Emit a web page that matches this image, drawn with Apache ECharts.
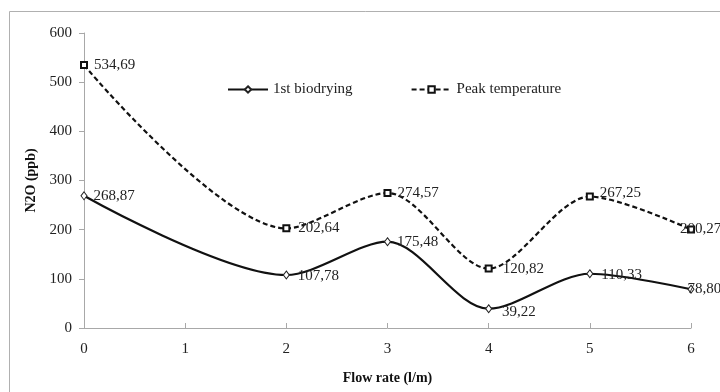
<!DOCTYPE html>
<html>
<head>
<meta charset="utf-8">
<script src="https://cdn.jsdelivr.net/npm/echarts@6/dist/echarts.min.js"></script>
<style>
  html, body { margin: 0; padding: 0; background: #fff; }
  #chart { width: 720px; height: 392px; }
</style>
</head>
<body>
<div id="chart"></div>
<script>
// data
const flowRates = [0, 2, 3, 4, 5, 6];
const biodrying = [268.87, 107.78, 175.48, 39.22, 110.33, 78.80];
const peakTemp = [534.69, 202.64, 274.57, 120.82, 267.25, 200.27];
const seriesNames = ['1st biodrying', 'Peak temperature'];

const serif = '"Liberation Serif", "DejaVu Serif", serif';

// label nudges so text sits like the original (last point label overlaps its marker)
const bioOffsets = [[0, 0], [2, 1], [0, 0], [4, 3], [2, 1], [-13, 0]];
const peakOffsets = [[0, 0], [2, 0], [0, 0], [4, 0], [0, -4], [-21, 0]];

// [x, y] pairs for the value x axis, with a per-point label offset
const toItems = (vals, offs) => vals.map((v, i) => ({
  value: [flowRates[i], v],
  label: { offset: offs[i] }
}));
// comma decimal like the original
const commaFmt = (p) => p.value[1].toFixed(2).replace('.', ',');

const chart = echarts.init(document.getElementById('chart'));

const labelStyle = {
  show: true,
  position: 'right',
  distance: 6,
  formatter: commaFmt,
  fontFamily: serif,
  fontSize: 15,
  color: '#222'
};

const option = {
  animation: false,
  backgroundColor: '#fff',
  graphic: [{
    type: 'rect',
    shape: { x: 9.5, y: 11.5, width: 720, height: 400 },
    style: { fill: 'none', stroke: '#b0b0b0', lineWidth: 1 },
    silent: true
  }],
  grid: { left: 84, right: 29, top: 33, bottom: 64 },
  legend: {
    left: 222,
    top: 77,
    itemGap: 58,
    itemWidth: 40,
    itemHeight: 8,
    textStyle: { fontFamily: serif, fontSize: 15, color: '#222' },
    data: seriesNames
  },
  xAxis: {
    type: 'value',
    min: 0,
    max: 6,
    interval: 1,
    name: 'Flow rate (l/m)',
    nameLocation: 'middle',
    nameGap: 43,
    nameTextStyle: { fontFamily: serif, fontSize: 14, fontWeight: 'bold', color: '#111' },
    axisLine: { lineStyle: { color: '#a8a8a8' } },
    axisTick: { show: true, inside: true, length: 5, lineStyle: { color: '#a8a8a8' } },
    axisLabel: { fontFamily: serif, fontSize: 15, color: '#222', margin: 14 },
    splitLine: { show: false }
  },
  yAxis: {
    type: 'value',
    min: 0,
    max: 600,
    interval: 100,
    name: 'N2O (ppb)',
    nameLocation: 'middle',
    nameGap: 42,
    nameTextStyle: { fontFamily: serif, fontSize: 14, fontWeight: 'bold', color: '#111' },
    axisLine: { show: true, lineStyle: { color: '#a8a8a8' } },
    axisTick: { show: true, length: 5, lineStyle: { color: '#a8a8a8' } },
    axisLabel: { fontFamily: serif, fontSize: 15, color: '#222', margin: 12 },
    splitLine: { show: false }
  },
  series: [
    {
      name: seriesNames[0],
      type: 'line',
      smooth: 0.3,
      data: toItems(biodrying, bioOffsets),
      symbol: 'diamond',
      symbolSize: [6, 8],
      itemStyle: { color: '#fff', borderColor: '#222', borderWidth: 1 },
      lineStyle: { color: '#111', width: 2.2 },
      label: labelStyle,
      z: 3
    },
    {
      name: seriesNames[1],
      type: 'line',
      smooth: 0.3,
      data: toItems(peakTemp, peakOffsets),
      symbol: 'rect',
      symbolSize: 6,
      itemStyle: { color: '#fff', borderColor: '#111', borderWidth: 2 },
      lineStyle: { color: '#111', width: 2.2, type: [5, 3] },
      label: labelStyle,
      z: 2
    }
  ]
};

chart.setOption(option);
</script>
</body>
</html>
